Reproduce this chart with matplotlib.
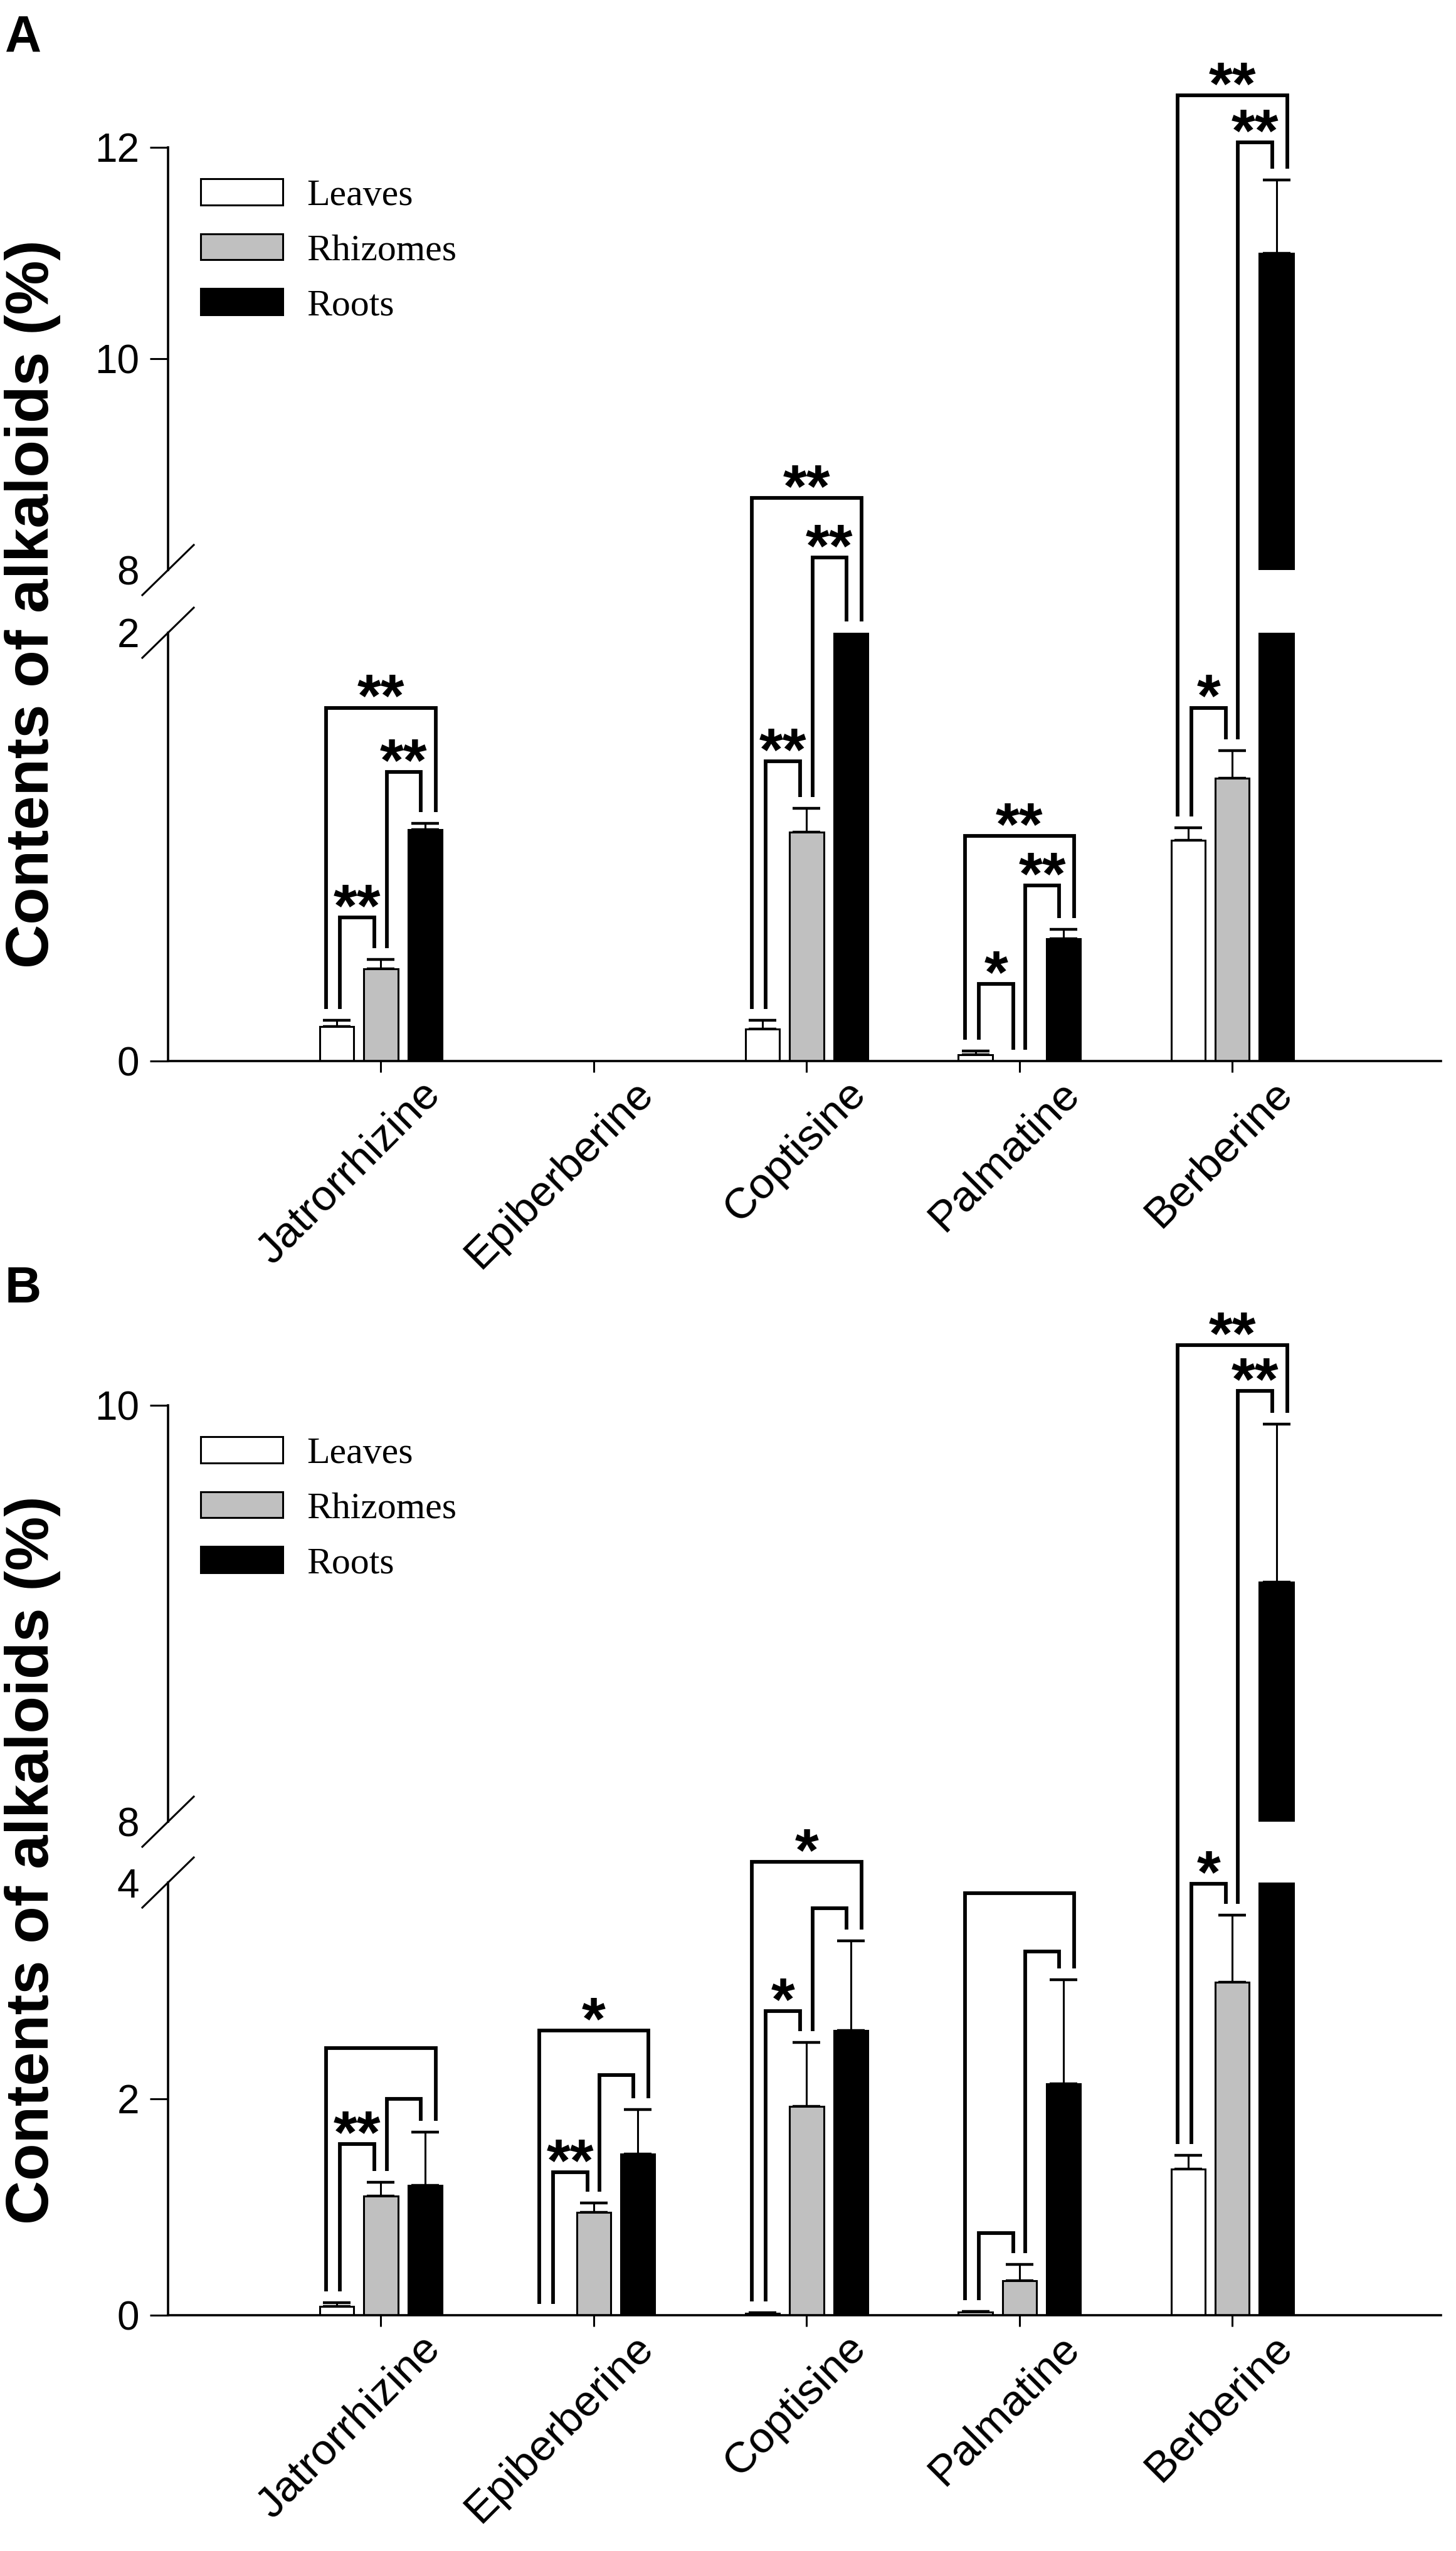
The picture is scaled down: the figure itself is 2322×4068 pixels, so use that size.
import numpy as np
import matplotlib
matplotlib.use('Agg')
import matplotlib.pyplot as plt
from matplotlib.patches import Patch
from matplotlib.lines import Line2D
from matplotlib.transforms import ScaledTranslation

plt.rcParams['font.family'] = ['Liberation Sans', 'DejaVu Sans']

W, H, DPI = 2322, 4068, 200

categories = ['Jatrorrhizine', 'Epiberberine', 'Coptisine', 'Palmatine', 'Berberine']
tissues = ['Leaves', 'Rhizomes', 'Roots']
colors = ['white', '#c0c0c0', 'black']

# ---- panel A (values in %) ----
a_leaves = [0.16, 0.0, 0.15, 0.03, 1.03]
a_leaves_err = [0.03, 0.0, 0.04, 0.017, 0.06]
a_rhizomes = [0.43, 0.0, 1.07, 0.0, 1.32]
a_rhizomes_err = [0.045, 0.0, 0.11, 0.0, 0.13]
a_roots = [1.08, 0.0, 2.5, 0.57, 11.0]
a_roots_err = [0.03, 0.0, 0.2, 0.045, 0.69]
# bracket heights per category: [Leaves-Roots, Leaves-Rhizomes, Rhizomes-Roots]
a_sig_heights = [[1.65, 0.67, 1.35], None, [2.63, 1.40, 2.35],
                 [1.05, 0.36, 0.82], [12.49, 1.65, 12.05]]
a_sig_labels = [['**', '**', '**'], None, ['**', '**', '**'],
                ['**', '*', '**'], ['**', '*', '**']]

# ---- panel B ----
b_leaves = [0.08, 0.0, 0.02, 0.03, 1.35]
b_leaves_err = [0.035, 0.0, 0.005, 0.005, 0.13]
b_rhizomes = [1.10, 0.95, 1.93, 0.32, 3.08]
b_rhizomes_err = [0.13, 0.09, 0.59, 0.15, 0.62]
b_roots = [1.20, 1.49, 2.63, 2.14, 9.15]
b_roots_err = [0.49, 0.41, 0.83, 0.96, 0.76]
b_sig_heights = [[2.47, 1.58, 2.00], [2.63, 1.32, 2.22], [4.19, 2.81, 3.76],
                 [3.90, 0.76, 3.36], [10.29, 3.99, 10.07]]
b_sig_labels = [['', '**', ''], ['*', '**', ''], ['*', '*', ''],
                ['', '', ''], ['**', '*', '**']]

BAR_W = 0.16
OFFSETS = [-0.207, 0.0, 0.207]
# leg x offsets (from bar centres) for the three bracket types
LEG_OFF = [(-0.05, 0.05), (0.015, -0.03), (0.027, -0.02)]
PAIRS = [(0, 2), (0, 1), (1, 2)]

fig = plt.figure(figsize=(W / DPI, H / DPI), dpi=DPI)

X0, X1 = 268, 2298


def px_rect(top, bottom):
    return [X0 / W, 1 - bottom / H, (X1 - X0) / W, (bottom - top) / H]


def to_fig(disp):
    return fig.transFigure.inverted().transform(disp)


def draw_panel(lo_px, hi_px, lo_lim, hi_lim, lo_ticks, hi_ticks,
               series, errs, sig_h, sig_lab, letter, letter_top):
    ax_lo = fig.add_axes(px_rect(lo_px[1], lo_px[0]))
    ax_hi = fig.add_axes(px_rect(hi_px[1], hi_px[0]), sharex=ax_lo)
    x = np.arange(len(categories))

    for ax in (ax_lo, ax_hi):
        for i in range(3):
            pos = x + OFFSETS[i]
            v = np.array(series[i])
            e = np.array(errs[i])
            ax.bar(pos, v, BAR_W, color=colors[i], edgecolor='black',
                   linewidth=1.1, zorder=2)
            m = e > 0
            ax.errorbar(pos[m], v[m], yerr=[np.zeros(m.sum()), e[m]],
                        fmt='none', ecolor='black', elinewidth=1.1,
                        capsize=8, capthick=1.6, zorder=1)
        ax.spines['right'].set_visible(False)
        ax.spines['top'].set_visible(False)
        ax.spines['left'].set_linewidth(1.3)
        ax.spines['bottom'].set_linewidth(1.3)
        ax.tick_params(axis='y', length=10.5, width=1.1, pad=6, labelsize=23)
        ax.set_xlim(-1, 4.98)

    ax_lo.set_ylim(*lo_lim)
    ax_hi.set_ylim(*hi_lim)
    ax_lo.set_yticks(lo_ticks)
    ax_hi.set_yticks(hi_ticks)
    ax_lo.yaxis.get_major_ticks()[-1].tick1line.set_visible(False)
    ax_hi.yaxis.get_major_ticks()[0].tick1line.set_visible(False)
    ax_hi.spines['bottom'].set_visible(False)
    ax_hi.tick_params(axis='x', bottom=False, labelbottom=False)

    ax_lo.set_xticks(x)
    ax_lo.set_xticklabels(categories, rotation=45, ha='right',
                          rotation_mode='anchor', fontsize=25)
    ax_lo.tick_params(axis='x', length=6.5, width=1.1, pad=0.5)
    shift = ScaledTranslation(62 / DPI, 0, fig.dpi_scale_trans)
    for lab in ax_lo.get_xticklabels():
        lab.set_transform(lab.get_transform() + shift)

    lo_top = lo_lim[1]
    hi_bot = hi_lim[0]

    def ypix(v, clip=False):
        if v >= hi_bot:
            return ax_hi.transData.transform((0, v))[1]
        if clip:
            v = min(v, lo_top)
        return ax_lo.transData.transform((0, v))[1]

    def xpix(v):
        return ax_lo.transData.transform((v, 0))[0]

    # break marks on the y axis
    for yv, ax in ((lo_top, ax_lo), (hi_bot, ax_hi)):
        cx, cy = ax.transData.transform((-1, yv))
        p0 = to_fig((cx - 41, cy - 40))
        p1 = to_fig((cx + 41, cy + 40))
        fig.add_artist(Line2D([p0[0], p1[0]], [p0[1], p1[1]],
                              color='black', lw=1.1))

    # significance brackets
    for ci, hts in enumerate(sig_h):
        if hts is None:
            continue
        tops = [ypix(series[k][ci] + errs[k][ci], clip=True) for k in range(3)]
        for b, (j1, j2) in enumerate(PAIRS):
            xa = xpix(ci + OFFSETS[j1] + LEG_OFF[b][0])
            xb = xpix(ci + OFFSETS[j2] + LEG_OFF[b][1])
            yt = ypix(hts[b])
            ya = tops[j1] + 18
            yb = tops[j2] + 18
            pts = [to_fig(p) for p in ((xa, ya), (xa, yt), (xb, yt), (xb, yb))]
            fig.add_artist(Line2D([p[0] for p in pts], [p[1] for p in pts],
                                  color='black', lw=2.1,
                                  solid_joinstyle='miter',
                                  solid_capstyle='butt'))
            if sig_lab[ci][b]:
                sx, sy = to_fig(((xa + xb) / 2, yt - 14))
                fig.text(sx, sy, sig_lab[ci][b], ha='center', va='baseline',
                         fontsize=35, fontweight='bold')

    handles = [Patch(facecolor=colors[i], edgecolor='black', linewidth=1.1,
                     label=tissues[i]) for i in range(3)]
    leg_top = hi_px[1] + 50
    ax_hi.legend(handles=handles, loc='upper left',
                 bbox_to_anchor=(320 / W, 1 - leg_top / H),
                 bbox_transform=fig.transFigure, frameon=False,
                 prop={'family': 'Liberation Serif', 'size': 21.5},
                 handlelength=2.19, handleheight=0.70, labelspacing=0.55,
                 handletextpad=0.65, borderpad=0, borderaxespad=0)

    mid = (lo_px[0] + hi_px[1]) / 2
    fig.text(52 / W, 1 - mid / H, 'Contents of alkaloids (%)', rotation=90,
             ha='center', va='center', fontsize=35, fontweight='bold')
    fig.text(8 / W, 1 - letter_top / H, letter, ha='left', va='top',
             fontsize=29, fontweight='bold')


draw_panel((1692, 1009), (909, 235), (0, 2), (8, 12), [0, 2], [8, 10, 12],
           [a_leaves, a_rhizomes, a_roots],
           [a_leaves_err, a_rhizomes_err, a_roots_err],
           a_sig_heights, a_sig_labels, 'A', 23)

draw_panel((3692, 3002), (2905, 2241), (0, 4), (8, 10), [0, 2, 4], [8, 10],
           [b_leaves, b_rhizomes, b_roots],
           [b_leaves_err, b_rhizomes_err, b_roots_err],
           b_sig_heights, b_sig_labels, 'B', 2018)

fig.savefig('out.png', dpi=DPI, facecolor='white')
